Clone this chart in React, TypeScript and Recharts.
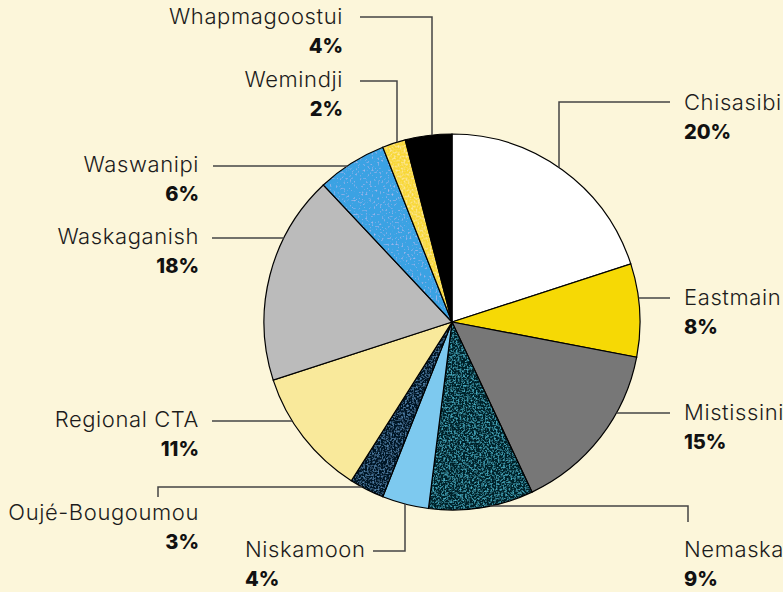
import React from "react";
import { PieChart, Pie, Cell } from "recharts";

// share of total, clockwise from 12 o'clock
const communities = [
  "Chisasibi",
  "Eastmain",
  "Mistissini",
  "Nemaska",
  "Niskamoon",
  "Oujé-Bougoumou",
  "Regional CTA",
  "Waskaganish",
  "Waswanipi",
  "Wemindji",
  "Whapmagoostui",
];
const shares = [20, 8, 15, 9, 4, 3, 11, 18, 6, 2, 4];
const sliceFills = [
  "#ffffff",
  "#f6d905",
  "#777777",
  "url(#p-teal)",
  "#7dc9ef",
  "url(#p-navy)",
  "#f9e99b",
  "#bbbbbb",
  "url(#p-blue)",
  "url(#p-gold)",
  "#000000",
];

const data = communities.map((name, i) => ({ name, value: shares[i] }));

// label placement: text position + leader line points, last leg snaps to the arc
type LabelPos = {
  x: number;
  y: number;
  anchor: "start" | "end";
  pts: [number, number][];
  snap: "x" | "y";
};
const labelPos: LabelPos[] = [
  { x: 684, y: 110, anchor: "start", pts: [[670, 102], [559, 102]], snap: "x" },
  { x: 684, y: 305, anchor: "start", pts: [[670, 298]], snap: "y" },
  { x: 684, y: 420, anchor: "start", pts: [[670, 413]], snap: "y" },
  { x: 684, y: 557, anchor: "start", pts: [[688, 522], [688, 506]], snap: "y" },
  { x: 245, y: 557, anchor: "start", pts: [[373, 551], [405, 551]], snap: "x" },
  { x: 199, y: 520, anchor: "end", pts: [[158, 497], [158, 487]], snap: "y" },
  { x: 199, y: 427, anchor: "end", pts: [[212, 421]], snap: "y" },
  { x: 199, y: 244, anchor: "end", pts: [[212, 238]], snap: "y" },
  { x: 199, y: 172, anchor: "end", pts: [[213, 166]], snap: "y" },
  { x: 343, y: 87, anchor: "end", pts: [[360, 81], [397, 81]], snap: "x" },
  { x: 343, y: 24, anchor: "end", pts: [[360, 17], [432, 17]], snap: "x" },
];

const FONT = "Inter, 'Noto Sans', sans-serif";

function renderLabel(props: any) {
  const { cx, cy, outerRadius, index, name, value } = props;
  const pos = labelPos[index];
  if (!pos) return null;
  const pts = pos.pts.slice();
  const [lx, ly] = pts[pts.length - 1];
  let end: [number, number];
  if (pos.snap === "x") {
    const d = Math.sqrt(Math.max(0, outerRadius * outerRadius - (lx - cx) * (lx - cx)));
    end = [lx, ly < cy ? cy - d : cy + d];
  } else {
    const d = Math.sqrt(Math.max(0, outerRadius * outerRadius - (ly - cy) * (ly - cy)));
    end = [lx > cx ? cx + d : cx - d, ly];
  }
  pts.push(end);
  return (
    <g key={`lbl-${index}`}>
      <polyline
        points={pts.map((p) => p.join(",")).join(" ")}
        fill="none"
        stroke="#444"
        strokeWidth={1.5}
      />
      <text
        x={pos.x}
        y={pos.y}
        textAnchor={pos.anchor}
        fontFamily={FONT}
        fontSize={22}
        fontWeight={300}
        letterSpacing={0.6}
        fill="#1c1c1c"
      >
        {name}
      </text>
      <text
        x={pos.x}
        y={pos.y + 29}
        textAnchor={pos.anchor}
        fontFamily={FONT}
        fontSize={20}
        fontWeight={800}
        fill="#111"
      >
        {`${value}%`}
      </text>
    </g>
  );
}

function NoisePattern({ id, base, spot, k, bias, freq }: { id: string; base: string; spot: number[]; k: number; bias: number; freq: number }) {
  return (
    <>
      <filter id={`f-${id}`} x="0" y="0" width="100%" height="100%">
        <feTurbulence type="fractalNoise" baseFrequency={freq} numOctaves={2} seed={4} result="t" />
        <feColorMatrix
          in="t"
          type="matrix"
          values={`0 0 0 0 ${spot[0]}  0 0 0 0 ${spot[1]}  0 0 0 0 ${spot[2]}  ${k} 0 0 0 ${bias}`}
          result="spots"
        />
        <feFlood floodColor={base} result="base" />
        <feMerge>
          <feMergeNode in="base" />
          <feMergeNode in="spots" />
        </feMerge>
      </filter>
      <pattern id={id} patternUnits="userSpaceOnUse" width={200} height={200}>
        <rect width={200} height={200} filter={`url(#f-${id})`} />
      </pattern>
    </>
  );
}

export default function App() {
  return (
    <div
      style={{
        position: "absolute",
        left: 0,
        top: 0,
        width: 783,
        height: 592,
        background: "#fcf6da",
      }}
    >
      <svg width={0} height={0} style={{ position: "absolute" }}>
        <defs>
          <NoisePattern id="p-teal" base="#03202a" spot={[0.06, 0.4, 0.52]} k={3.2} bias={-1.5} freq={0.55} />
          <NoisePattern id="p-navy" base="#051426" spot={[0.08, 0.22, 0.4]} k={3.2} bias={-1.5} freq={0.55} />
          <NoisePattern id="p-blue" base="#3aa2e3" spot={[0.7, 0.6, 0.9]} k={2.2} bias={-1.3} freq={0.5} />
          <NoisePattern id="p-gold" base="#f8d838" spot={[1, 0.88, 0.45]} k={2} bias={-0.9} freq={0.5} />
        </defs>
      </svg>
      <PieChart width={783} height={592} margin={{ top: 0, right: 0, bottom: 0, left: 0 }}>
        <Pie
          data={data}
          dataKey="value"
          nameKey="name"
          cx={452}
          cy={322}
          outerRadius={188}
          startAngle={90}
          endAngle={-270}
          stroke="#000"
          strokeWidth={1.2}
          label={renderLabel}
          labelLine={false}
          isAnimationActive={false}
        >
          {data.map((d, i) => (
            <Cell key={d.name} fill={sliceFills[i]} />
          ))}
        </Pie>
      </PieChart>
    </div>
  );
}
